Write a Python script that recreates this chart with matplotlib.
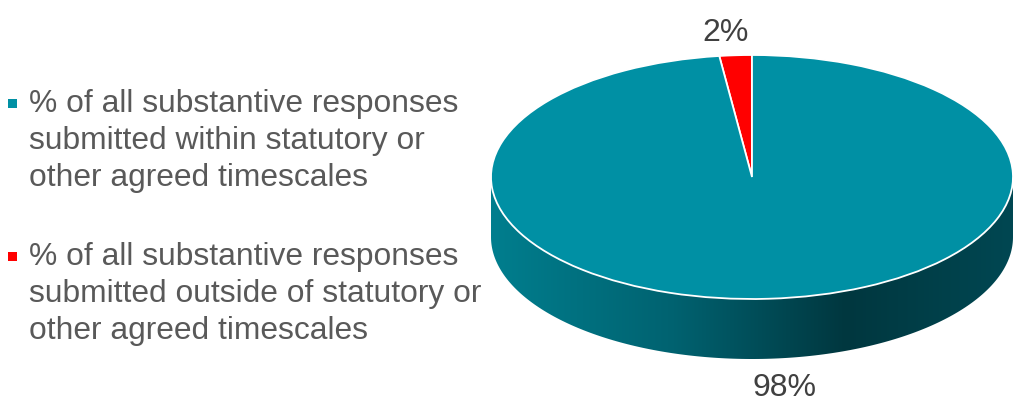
import numpy as np
import matplotlib
matplotlib.use("Agg")
import matplotlib.pyplot as plt
from matplotlib.patches import Wedge, Polygon, Rectangle
from matplotlib.transforms import Affine2D
from matplotlib.colors import LinearSegmentedColormap

# Data
labels = ["% of all substantive responses\nsubmitted within statutory or\nother agreed timescales",
          "% of all substantive responses\nsubmitted outside of statutory or\nother agreed timescales"]
values = [98, 2]
colors = ["#0090A4", "#FF0000"]

plt.rcParams['font.family'] = ['Liberation Sans', 'DejaVu Sans']

W, H = 1018, 405
fig = plt.figure(figsize=(W / 100, H / 100), dpi=100)
ax = fig.add_axes([0, 0, 1, 1])
ax.set_xlim(0, W)
ax.set_ylim(0, H)
ax.axis('off')

# pie geometry (pixels)
cx, cy = 752, 228
rx, ry = 261, 122
depth = 60
ellipse = Affine2D().scale(rx, ry).translate(cx, cy) + ax.transData

# angles: start at 12 o'clock, go counter-clockwise
fracs = np.array(values[::-1], dtype=float) / sum(values)
bounds = 90 + 360 * np.concatenate([[0], np.cumsum(fracs)])

# side wall (front half) with a horizontal shading gradient
t = np.radians(np.linspace(180, 360, 200))
top_edge = np.column_stack([cx + rx * np.cos(t), cy + ry * np.sin(t)])
bot_edge = top_edge[::-1] - [0, depth]
side = Polygon(np.vstack([top_edge, bot_edge]), closed=True, facecolor='none', edgecolor='none')
ax.add_patch(side)
shade = LinearSegmentedColormap.from_list(
    'side', [(0.0, '#007E8E'), (0.35, '#006270'), (0.68, '#00373F'), (1.0, '#004752')])
grad = np.linspace(0, 1, 256).reshape(1, -1)
img = ax.imshow(grad, cmap=shade, aspect='auto', interpolation='bilinear',
                extent=[cx - rx, cx + rx, cy - ry - depth, cy], zorder=1)
img.set_clip_path(side)

# top face
for (t1, t2), c in zip(zip(bounds[:-1], bounds[1:]), colors[::-1]):
    w = Wedge((0, 0), 1, t1, t2, facecolor=c, edgecolor='white', linewidth=1.3,
              transform=ellipse, zorder=2)
    ax.add_patch(w)

# data labels
ax.text(726, H - 33, f"{values[1]}%", fontsize=23, color='#404040', ha='center', va='center')
ax.text(785, H - 388, f"{values[0]}%", fontsize=23, color='#404040', ha='center', va='center')

# legend
legend_y = [103, 256]
for lab, c, y in zip(labels, colors, legend_y):
    ax.add_patch(Rectangle((8, H - y - 4.5), 9, 9, facecolor=c, edgecolor='none'))
    ax.text(29, H - y + 14, lab, fontsize=22.9, color='#595959', ha='left', va='top',
            linespacing=1.31)

fig.savefig('out.png', dpi=100)
